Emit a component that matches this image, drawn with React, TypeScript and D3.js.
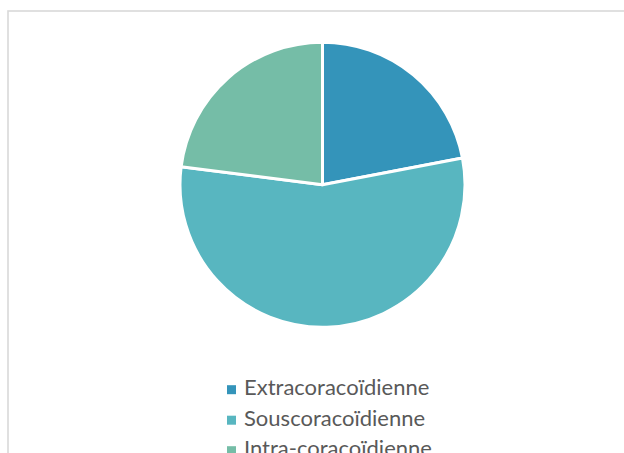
import React from "react";
import * as d3 from "d3";

const categories = ["Extracoracoïdienne", "Souscoracoïdienne", "Intra-coracoïdienne"];
const values = [22, 55, 23];
const colors = ["#3494BA", "#58B6C0", "#75BDA7"];

const W = 624;
const H = 453;

export default function App() {
  const cx = 322.5;
  const cy = 184.7;
  const r = 142.5;
  const pie = d3.pie<number>().sort(null).value((d) => d)(values);
  const arc = d3.arc<d3.PieArcDatum<number>>().innerRadius(0).outerRadius(r);

  const legendX = 227;
  const legendY0 = 389.7;
  const legendStep = 30.5;

  return (
    <svg
      width={W}
      height={H}
      style={{ position: "absolute", left: 0, top: 0, background: "#fff" }}
      fontFamily="Lato, 'Open Sans', sans-serif"
    >
      <rect x={0} y={0} width={W} height={H} fill="#fff" />
      <rect x={8} y={11} width={800} height={600} fill="#fff" stroke="#d9d9d9" strokeWidth={1.6} />
      <g transform={`translate(${cx},${cy})`}>
        {pie.map((p, i) => (
          <path key={i} d={arc(p) || ""} fill={colors[i]} stroke="#fff" strokeWidth={3} strokeLinejoin="round" />
        ))}
      </g>
      {categories.map((c, i) => (
        <g key={c} transform={`translate(${legendX},${legendY0 + i * legendStep})`}>
          <rect x={0} y={-4.5} width={9} height={9} fill={colors[i]} />
          <text x={17} y={5.5} fontSize={22} fill="#595959">
            {c}
          </text>
        </g>
      ))}
    </svg>
  );
}
